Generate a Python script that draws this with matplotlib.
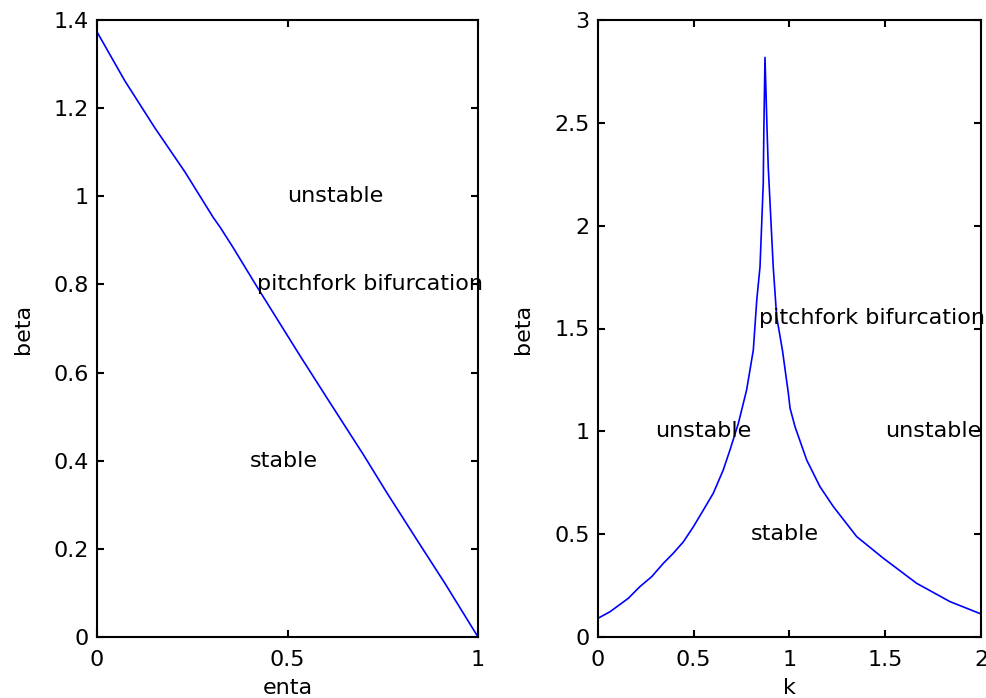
import matplotlib
matplotlib.use("Agg")
import matplotlib.pyplot as plt

# left panel: beta vs enta
enta = [0, 0.073, 0.152, 0.231, 0.305, 0.323, 0.357, 0.419, 0.533, 0.612,
        0.699, 0.761, 0.84, 0.913, 1.0]
beta_enta = [1.373, 1.262, 1.155, 1.055, 0.952, 0.930, 0.884, 0.796, 0.638, 0.531,
             0.414, 0.327, 0.220, 0.122, 0.0]

# right panel: beta vs k
k = [0, 0.063, 0.158, 0.219, 0.280, 0.341, 0.393, 0.446, 0.498, 0.550,
     0.602, 0.654, 0.689, 0.733, 0.776, 0.811, 0.829, 0.846, 0.863, 0.866,
     0.872, 0.883, 0.889, 0.915, 0.933, 0.963, 0.994, 1.003, 1.029, 1.090,
     1.159, 1.229, 1.351, 1.490, 1.664, 1.838, 2.0]
beta_k = [0.091, 0.123, 0.188, 0.245, 0.293, 0.358, 0.407, 0.463, 0.536, 0.617,
          0.699, 0.812, 0.909, 1.039, 1.201, 1.395, 1.638, 1.800, 2.206, 2.46,
          2.818, 2.46, 2.286, 1.800, 1.557, 1.395, 1.185, 1.112, 1.022, 0.860,
          0.731, 0.634, 0.488, 0.383, 0.261, 0.172, 0.112]

left_notes = [(0.5, 1.0, "unstable"), (0.42, 0.8, "pitchfork bifurcation"), (0.4, 0.4, "stable")]
right_notes = [(0.84, 1.55, "pitchfork bifurcation"), (0.3, 1.0, "unstable"),
               (1.5, 1.0, "unstable"), (0.8, 0.5, "stable")]

plt.rcParams["font.family"] = ["DejaVu Sans"]
plt.rcParams["font.size"] = 16

W, H = 987, 698
fig = plt.figure(figsize=(W / 100, H / 100), dpi=100)

bottom = (H - 637) / H
height = 617 / H
ax1 = fig.add_axes([97 / W, bottom, 381 / W, height])
ax2 = fig.add_axes([598 / W, bottom, 383 / W, height])


def style(ax):
    for s in ax.spines.values():
        s.set_linewidth(1.5)
    ax.tick_params(direction="in", length=5, width=1.5, top=True, right=True)
    ax.tick_params(axis="x", pad=9)
    ax.tick_params(axis="y", pad=6)


ax1.plot(enta, beta_enta, color="#0000ff", lw=1.2)
ax1.set_xlim(0, 1)
ax1.set_ylim(0, 1.4)
ax1.set_xticks([0, 0.5, 1])
ax1.set_xticklabels(["0", "0.5", "1"])
ax1.set_yticks([0, 0.2, 0.4, 0.6, 0.8, 1.0, 1.2, 1.4])
ax1.set_yticklabels(["0", "0.2", "0.4", "0.6", "0.8", "1", "1.2", "1.4"])
ax1.set_xlabel("enta")
ax1.set_ylabel("beta")
ax1.xaxis.set_label_coords(0.5, -0.067)
ax1.yaxis.set_label_coords(-0.168, 0.5)
for x, y, s in left_notes:
    ax1.text(x, y, s, ha="left", va="center")
style(ax1)

ax2.plot(k, beta_k, color="#0000ff", lw=1.2)
ax2.set_xlim(0, 2)
ax2.set_ylim(0, 3)
ax2.set_xticks([0, 0.5, 1, 1.5, 2])
ax2.set_xticklabels(["0", "0.5", "1", "1.5", "2"])
ax2.set_yticks([0, 0.5, 1, 1.5, 2, 2.5, 3])
ax2.set_yticklabels(["0", "0.5", "1", "1.5", "2", "2.5", "3"])
ax2.set_xlabel("k")
ax2.set_ylabel("beta")
ax2.xaxis.set_label_coords(0.5, -0.067)
ax2.yaxis.set_label_coords(-0.170, 0.5)
for x, y, s in right_notes:
    ax2.text(x, y, s, ha="left", va="center")
style(ax2)

fig.savefig("out.png", dpi=100)
